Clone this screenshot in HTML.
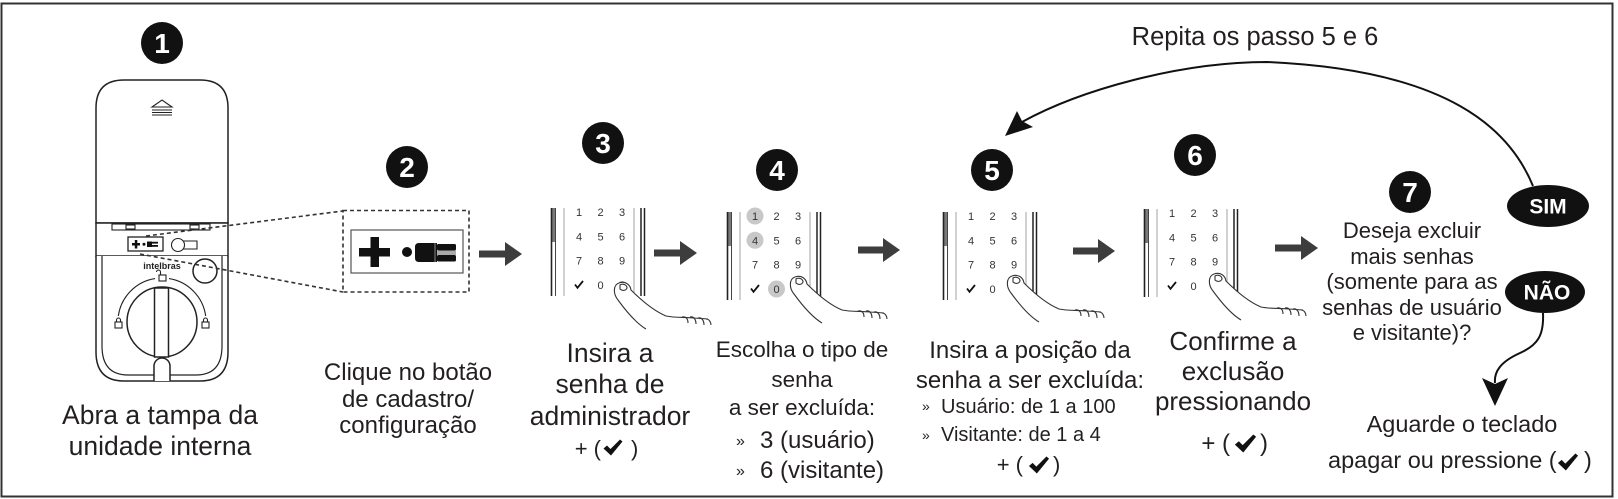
<!DOCTYPE html>
<html><head><meta charset="utf-8"><style>
html,body{margin:0;padding:0;background:#fff;}
svg{display:block;}
text{font-family:"Liberation Sans",sans-serif;}
</style></head><body>
<svg width="1618" height="499" viewBox="0 0 1618 499" xmlns="http://www.w3.org/2000/svg">
<defs>
<symbol id="chk" viewBox="0 0 20 17"><path d="M0.5,9.5 L4,6.5 L7.5,10 L17,0.5 L19.5,2.5 L8,16.5 Z" fill="#111"/></symbol>
<g id="pad">
  <rect x="-27.5" y="-4" width="4" height="34" fill="#7a7a7a"/>
  <line x1="-27.5" y1="-4" x2="-27.5" y2="84" stroke="#222" stroke-width="1.6"/>
  <line x1="-23.5" y1="-4" x2="-23.5" y2="84" stroke="#444" stroke-width="1"/>
  <line x1="-15" y1="-4" x2="-15" y2="84" stroke="#999" stroke-width="0.9"/>
  <line x1="55" y1="-4" x2="55" y2="84" stroke="#999" stroke-width="0.9"/>
  <line x1="62" y1="-4" x2="62" y2="84" stroke="#222" stroke-width="1.5"/>
  <line x1="65.5" y1="-4" x2="65.5" y2="84" stroke="#222" stroke-width="1.5"/>
  <g font-size="11" text-anchor="middle" fill="#333">
    <text x="0" y="4">1</text><text x="21.5" y="4">2</text><text x="43" y="4">3</text>
    <text x="0" y="28.3">4</text><text x="21.5" y="28.3">5</text><text x="43" y="28.3">6</text>
    <text x="0" y="52.6">7</text><text x="21.5" y="52.6">8</text><text x="43" y="52.6">9</text>
    <text x="21.5" y="77">0</text>
  </g>
  <path d="M-4,72.5 L-1.5,75.8 L4,69" fill="none" stroke="#111" stroke-width="1.8"/>
</g>
<g id="hand" stroke="#333" stroke-width="1.1" fill="none">
  <path d="M-3,-6 C-9,-4 -9,5 -4,11 C4,22 14,34 24,40 L92,40 L92,29 C62,28 54,29 44,27 C32,22 20,12 9,1 C8,-5 3,-8 -3,-6Z" fill="#fff" stroke="none"/>
  <path d="M-3,-6 C-9,-4 -9,5 -4,11 C4,22 14,34 24,40"/>
  <path d="M-3,-6 C3,-8 8,-5 9,1 C20,12 32,22 44,27 C54,29 62,28 72,29 L86,30"/>
  <path d="M60,28 C64,27 66,30 66,34 M68,28 C72,27 74,31 74,35 M76,29 C80,28 82,32 82,36 M84,30 C87,30 89,33 89,36"/>
  <path d="M-2,-4 C1,-6 5,-4 5,-1 C4,2 0,2 -2,0 Z"/>
</g>
</defs>

<rect x="1.5" y="3.5" width="1611" height="493" fill="#fff" stroke="#333" stroke-width="2"/>

<!-- circles -->
<g fill="#111">
  <circle cx="162" cy="43" r="21"/><circle cx="407" cy="167" r="21"/><circle cx="603" cy="143" r="21"/>
  <circle cx="777" cy="170" r="21"/><circle cx="992" cy="170" r="21"/><circle cx="1195" cy="155" r="21"/>
  <circle cx="1410" cy="192" r="21"/>
</g>
<g fill="#fff" font-size="28" font-weight="bold" text-anchor="middle">
  <text x="162" y="53">1</text><text x="407" y="177">2</text><text x="603" y="153">3</text>
  <text x="777" y="180">4</text><text x="992" y="180">5</text><text x="1195" y="165">6</text>
  <text x="1410" y="202">7</text>
</g>

<!-- device -->
<g stroke="#222" stroke-width="1.5" fill="#fff">
  <path d="M96,223 V108 Q96,80 124,80 H200 Q228,80 228,108 V223 Z"/>
  <rect x="96" y="223" width="132" height="33"/>
  <path d="M96,256 V352 Q96,381 124,381 H200 Q228,381 228,352 V256"/>
  <path d="M102,256 V346 Q102,375 128,375 H154 M170,375 H196 Q222,375 222,346 V256" fill="none" stroke-width="1.2"/>
  <path d="M154,381 V366 A8,8 0 0 1 170,366 V381" fill="#fff"/>
  <circle cx="162" cy="322" r="35"/>
  <rect x="154.5" y="288" width="14" height="69"/>
  <circle cx="205" cy="271" r="12"/>
</g>
<g stroke="#222" stroke-width="1.1" fill="none">
  <path d="M118.3,316 A44,44 0 0 1 155,278.6 M169,278.6 A44,44 0 0 1 205.7,316"/>
  <rect x="112" y="224" width="98" height="6"/>
  <rect x="126" y="225" width="9" height="4"/><rect x="190" y="225" width="9" height="4"/>
  <path d="M152,107 L162,100 L172,107 Z"/>
  <path d="M152,110 H172 M152,112.5 H172 M152,115 H172"/>
  <rect x="128" y="237" width="35" height="14" stroke-width="1.3"/>
  <circle cx="178" cy="245" r="6.5"/>
  <path d="M183,241 H197 V249 H183"/>
  <!-- locks -->
  <rect x="115" y="322" width="7" height="6"/><path d="M116.5,322 V320 A2,2 0 0 1 120.5,320 V322"/>
  <rect x="202" y="322" width="7" height="6"/><path d="M203.5,322 V320 A2,2 0 0 1 207.5,320 V322"/>
  <rect x="159" y="275" width="7" height="6"/><path d="M160.5,275 V272 A2,2 0 0 0 156.5,272"/>
</g>
<g fill="#111">
  <rect x="132" y="243" width="8" height="2.5"/><rect x="134.8" y="240" width="2.5" height="8.5"/>
  <circle cx="144" cy="244.3" r="1.5"/><rect x="147" y="241.5" width="5" height="5.5"/><rect x="152" y="241.8" width="6" height="1.8"/><rect x="152" y="245" width="6" height="1.8"/>
</g>
<text x="162" y="269" font-size="9" font-weight="bold" text-anchor="middle" fill="#222">intelbras</text>

<!-- dashed connectors and box 2 -->
<g stroke="#333" stroke-width="1.6" stroke-dasharray="4,3" fill="none">
  <line x1="146" y1="236" x2="343" y2="211"/>
  <line x1="140" y1="254" x2="343" y2="292"/>
  <rect x="343" y="210.5" width="126" height="81.5"/>
</g>
<rect x="351" y="230" width="112" height="43" fill="#fff" stroke="#555" stroke-width="1.2"/>
<g fill="#111">
  <rect x="359" y="248" width="31" height="8.5"/><rect x="370.5" y="237" width="8.5" height="30"/>
  <circle cx="407" cy="252" r="5"/>
  <path d="M419,243 H437 V262 H419 Q415,262 415,258 V247 Q415,243 419,243 Z"/>
  <rect x="437" y="244" width="19" height="6.5" rx="1.5"/><rect x="437" y="255" width="19" height="6.5" rx="1.5"/>
</g>
<rect x="437" y="250.5" width="19" height="4.5" fill="#aaa"/>
<line x1="435" y1="243" x2="435" y2="262" stroke="#888" stroke-width="1"/>

<!-- arrows -->
<g fill="#3d3d3d">
  <polygon points="479,250.5 505,250.5 505,242 522,254 505,266 505,257.5 479,257.5"/>
  <polygon points="654,249.5 680,249.5 680,241 697,253 680,265 680,256.5 654,256.5"/>
  <polygon points="858,246.5 883,246.5 883,238 900,250 883,262 883,253.5 858,253.5"/>
  <polygon points="1073,247.5 1098,247.5 1098,239 1115,251 1098,263 1098,254.5 1073,254.5"/>
  <polygon points="1275,244.5 1301,244.5 1301,236 1318,248 1301,260 1301,251.5 1275,251.5"/>
</g>

<!-- keypads -->
<g transform="translate(579,212)"><use href="#pad"/><circle cx="43" cy="73" r="4" fill="#aaa"/><use href="#hand" transform="translate(43,77)"/></g>
<g transform="translate(755,216)">
  <circle cx="0" cy="0" r="8.5" fill="#c8c8c8"/><circle cx="0" cy="24.3" r="8.5" fill="#c8c8c8"/><circle cx="21.5" cy="73" r="8.5" fill="#c8c8c8"/>
  <use href="#pad"/><use href="#hand" transform="translate(43,67)"/></g>
<g transform="translate(971,216)"><use href="#pad"/><use href="#hand" transform="translate(44,66)"/></g>
<g transform="translate(1172,213)"><use href="#pad"/><use href="#hand" transform="translate(45,67)"/></g>

<!-- loop connector -->
<g stroke="#111" stroke-width="2" fill="none">
  <path d="M1533,186 C1510,130 1450,70 1267,62 C1180,62 1080,90 1022,122"/>
  <path d="M1543,313 C1544,335 1538,345 1520,353 C1500,362 1494,372 1495,383"/>
</g>
<polygon points="1005,136 1017,111 1022,121 1033,127" fill="#111"/>
<polygon points="1482,378 1495,384 1508,378 1495,406" fill="#111"/>

<ellipse cx="1548" cy="206" rx="41" ry="21" fill="#111"/>
<ellipse cx="1545" cy="292" rx="40" ry="21" fill="#111"/>
<g fill="#fff" font-weight="bold" font-size="21" text-anchor="middle">
  <text x="1548" y="213.5">SIM</text>
  <text x="1547" y="299.5">NÃO</text>
</g>

<!-- texts -->
<g fill="#231f20" text-anchor="middle">
  <text x="1255" y="45" font-size="25.5">Repita os passo 5 e 6</text>

  <text x="160" y="424" font-size="26.5">Abra a tampa da</text>
  <text x="160" y="455" font-size="26.5">unidade interna</text>

  <text x="408" y="380" font-size="24">Clique no botão</text>
  <text x="408" y="407" font-size="24">de cadastro/</text>
  <text x="408" y="433" font-size="24">configuração</text>

  <text x="610" y="362" font-size="26.5">Insira a</text>
  <text x="610" y="393" font-size="26.5">senha de</text>
  <text x="610" y="425" font-size="26.5">administrador</text>

  <text x="802" y="357" font-size="22.5">Escolha o tipo de</text>
  <text x="802" y="387" font-size="22.5">senha</text>
  <text x="802" y="415" font-size="22.5">a ser excluída:</text>

  <text x="1030" y="358" font-size="24">Insira a posição da</text>
  <text x="1030" y="388" font-size="24">senha a ser excluída:</text>

  <text x="1233" y="350" font-size="26">Confirme a</text>
  <text x="1233" y="380" font-size="26">exclusão</text>
  <text x="1233" y="410" font-size="26">pressionando</text>

  <text x="1412" y="238" font-size="22">Deseja excluir</text>
  <text x="1412" y="264" font-size="22">mais senhas</text>
  <text x="1412" y="289" font-size="22">(somente para as</text>
  <text x="1412" y="315" font-size="22">senhas de usuário</text>
  <text x="1412" y="340" font-size="22">e visitante)?</text>

  <text x="1462" y="432" font-size="23.5">Aguarde o teclado</text>
</g>
<g fill="#231f20">
  <text x="736" y="446" font-size="16">»</text>
  <text x="760" y="448" font-size="24">3 (usuário)</text>
  <text x="736" y="476" font-size="16">»</text>
  <text x="760" y="478" font-size="24">6 (visitante)</text>

  <text x="922" y="411" font-size="14">»</text>
  <text x="941" y="413" font-size="20">Usuário: de 1 a 100</text>
  <text x="922" y="440" font-size="14">»</text>
  <text x="941" y="441" font-size="20">Visitante: de 1 a 4</text>

  <text x="1328" y="468" font-size="23.5">apagar ou pressione (</text>
</g>
<g fill="#231f20" font-size="22">
  <text x="601" y="456" text-anchor="end">+ (</text><use href="#chk" x="603" y="439" width="20" height="17"/><text x="631" y="456">)</text>
  <text x="1023" y="472" text-anchor="end">+ (</text><use href="#chk" x="1028" y="456" width="22" height="18"/><text x="1053" y="472">)</text>
  <text x="1230" y="451" font-size="24" text-anchor="end">+ (</text><use href="#chk" x="1234" y="434" width="23" height="19"/><text x="1260" y="451" font-size="24">)</text>
  <use href="#chk" x="1557" y="453" width="22" height="18"/><text x="1584" y="468" font-size="23.5">)</text>
</g>
</svg>
</body></html>
